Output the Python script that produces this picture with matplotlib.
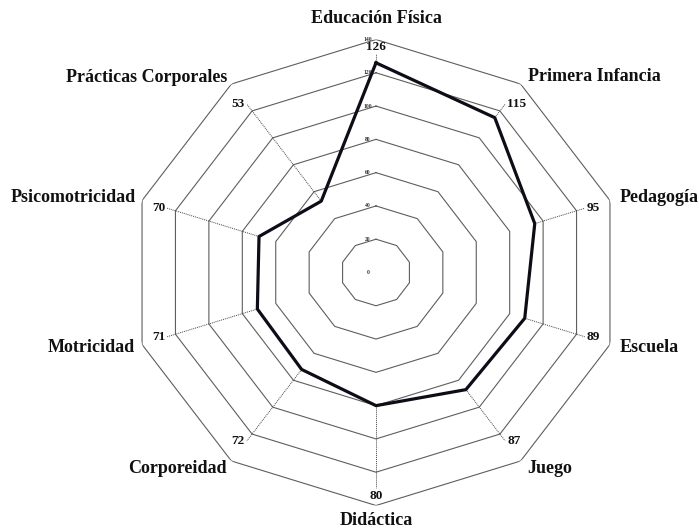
import numpy as np
import matplotlib
matplotlib.use("Agg")
import matplotlib.pyplot as plt

# data
categories = ["Educación Física", "Primera Infancia", "Pedagogía", "Escuela", "Juego",
              "Didáctica", "Corporeidad", "Motricidad", "Psicomotricidad", "Prácticas Corporales"]
values = [126, 115, 95, 89, 87, 80, 72, 71, 70, 53]
levels = [20, 40, 60, 80, 100, 120, 140]
tick_labels = ["0", "20", "40", "60", "80", "100", "120", "140"]

plt.rcParams["font.family"] = ["Liberation Serif", "DejaVu Serif"]

W, H = 699, 532
fig = plt.figure(figsize=(W / 100, H / 100), dpi=100)
fig.patch.set_facecolor("white")

# center ~ (376, 272.5) px, r=140 -> 246 px wide, 233 px tall
cx, cy, rx, ry = 376, 272.5, 246, 233
ax = fig.add_axes([(cx - rx) / W, (H - cy - ry) / H, 2 * rx / W, 2 * ry / H], projection="polar")
ax.set_aspect("auto")
ax.set_theta_zero_location("N")
ax.set_theta_direction(-1)
ax.set_ylim(0, 140)
ax.grid(False)
ax.spines["polar"].set_visible(False)
ax.set_xticks([])
ax.set_yticks([])
ax.patch.set_alpha(0)

n = len(categories)
angles = np.linspace(0, 2 * np.pi, n, endpoint=False)
closed = np.append(angles, angles[0])

# decagon rings
for lv in levels:
    ax.plot(closed, [lv] * (n + 1), color="#5e5e5e", lw=0.8, zorder=1)

# level labels along the top spoke
for lv, txt in zip([0] + levels, tick_labels):
    ax.annotate(txt, (0, lv), xytext=(-8, 0), textcoords="offset pixels",
                ha="center", va="center", fontsize=4, color="#333333", fontweight="bold", zorder=3)

# data polygon
vals = values + [values[0]]
ax.plot(closed, vals, color="#0d0d18", lw=2.3, zorder=4)

# leader lines and value labels
for ang, v in zip(angles, values):
    s = np.sin(ang)
    if abs(s) < 0.01:
        # top / bottom spokes
        end = 131 if np.cos(ang) > 0 else 129.5
        lab_r = 135.5 if np.cos(ang) > 0 else 134
        ax.plot([ang, ang], [v, end], color="#444444", lw=0.7, ls=(0, (1, 1)), zorder=2)
        ax.text(ang, lab_r, str(v), ha="center", va="center", fontsize=9.5,
                fontweight="bold", color="#111111", zorder=5)
    else:
        ax.plot([ang, ang], [v, 125], color="#444444", lw=0.7, ls=(0, (1, 1)), zorder=2)
        ha = "left" if s > 0 else "right"
        dx = 2 if s > 0 else -2
        ax.annotate(str(v), (ang, 125), xytext=(dx, 0), textcoords="offset pixels",
                    ha=ha, va="center", fontsize=9.5, fontweight="bold", color="#111111", zorder=5)

# category labels
offsets = [(0, 21), (7, 7), (10, 3), (10, -3), (7, -7),
           (0, -15), (-5, -7), (-7, -3), (-6, 3), (-4, 6)]
for ang, name, (dx, dy) in zip(angles, categories, offsets):
    s = np.sin(ang)
    ha = "center" if abs(s) < 0.01 else ("left" if s > 0 else "right")
    ax.annotate(name, (ang, 140), xytext=(dx, dy), textcoords="offset pixels",
                ha=ha, va="center", fontsize=13, fontweight="bold", color="#111111",
                annotation_clip=False)

fig.savefig("out.png", dpi=100, facecolor="white")
